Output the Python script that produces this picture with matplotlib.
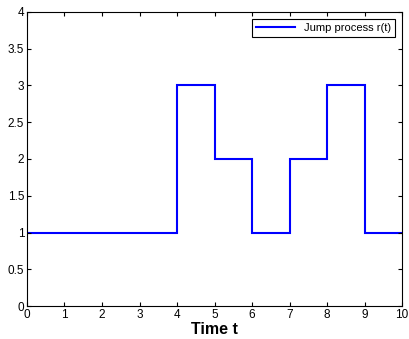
import matplotlib
matplotlib.use('Agg')
import matplotlib.pyplot as plt

# 跳跃过程的分段取值
t_edges = [0, 4, 5, 6, 7, 8, 9, 10]
r_vals = [1, 3, 2, 1, 2, 3, 1]
x_ticks = list(range(0, 11))
y_ticks = [0, 0.5, 1, 1.5, 2, 2.5, 3, 3.5, 4]

plt.rcParams['font.family'] = ['Liberation Sans', 'DejaVu Sans']

fig = plt.figure(figsize=(4.09, 3.39), dpi=100)
ax = fig.add_axes([0.066, 0.097, 0.917, 0.868])

ax.stairs(r_vals, t_edges, color='#0000ff', linewidth=1.5, baseline=None,
          label='Jump process r(t)')

ax.set_xlim(0, 10)
ax.set_ylim(0, 4)
ax.set_xticks(x_ticks)
ax.set_yticks(y_ticks)
ax.set_yticklabels(['0', '0.5', '1', '1.5', '2', '2.5', '3', '3.5', '4'])
ax.tick_params(direction='in', top=True, right=True, labelsize=8.5, length=3, pad=2)
for s in ax.spines.values():
    s.set_linewidth(0.8)
ax.set_xlabel('Time t', fontsize=11.5, fontweight='bold', labelpad=1)

leg = ax.legend(loc='upper right', fontsize=8, fancybox=False, framealpha=1,
                edgecolor='black', handlelength=3.5, borderpad=0.4,
                borderaxespad=0.6)
leg.get_frame().set_linewidth(0.8)

fig.savefig('out.png', dpi=100)
